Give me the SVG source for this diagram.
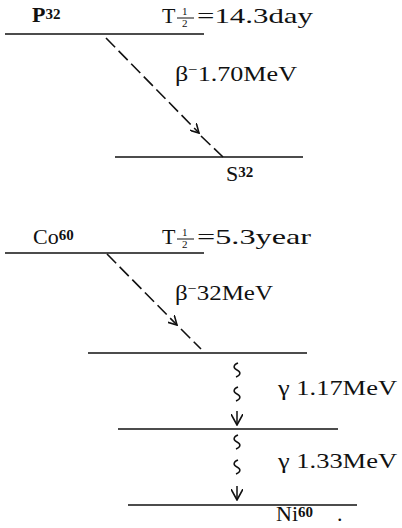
<svg xmlns="http://www.w3.org/2000/svg" width="402" height="528" viewBox="0 0 402 528">
<style>
text{font-family:"Liberation Serif","DejaVu Serif",serif;fill:#111;font-size:22px}
.sup{font-size:15px;font-weight:bold}
.frac{font-size:11px}
.lvl{stroke:#111;stroke-width:1.3;fill:none}
.beta{stroke:#111;stroke-width:1.6;fill:none;stroke-dasharray:13 5}
.gam{stroke:#111;stroke-width:1.5;fill:none}
</style>
<defs>
<marker id="ah" viewBox="0 0 10 10" refX="9" refY="5" markerWidth="10" markerHeight="10" markerUnits="userSpaceOnUse" orient="auto">
<path d="M0,0 L9,5 L0,10" fill="none" stroke="#111" stroke-width="1.6"/>
</marker>
<marker id="ah2" viewBox="0 0 12 12" refX="11" refY="6" markerWidth="12" markerHeight="12" markerUnits="userSpaceOnUse" orient="auto">
<path d="M0,0 L11,6 L0,12" fill="none" stroke="#111" stroke-width="1.6"/>
</marker>
</defs>
<g id="p32">
<line class="lvl" x1="5" y1="34" x2="204" y2="34"/>
<text x="32" y="22" font-weight="bold" font-size="19">P<tspan class="sup" dy="-3">32</tspan></text>
<text x="162" y="23">T</text>
<text class="frac" x="182" y="15">1</text>
<line x1="177" y1="18" x2="194" y2="18" stroke="#111" stroke-width="1"/>
<text class="frac" x="182" y="27">2</text>
<text x="197" y="23" textLength="116" lengthAdjust="spacingAndGlyphs">=14.3day</text>
</g>
<g id="s32">
<line class="lvl" x1="115" y1="157" x2="303" y2="157"/>
<text x="226" y="181">S<tspan class="sup" dy="-4">32</tspan></text>
</g>
<g id="co60">
<line class="lvl" x1="5" y1="253" x2="204" y2="253"/>
<text x="33" y="244">Co<tspan class="sup" dy="-4">60</tspan></text>
<text x="162" y="244">T</text>
<text class="frac" x="182" y="236">1</text>
<line x1="177" y1="239" x2="194" y2="239" stroke="#111" stroke-width="1"/>
<text class="frac" x="182" y="248">2</text>
<text x="197" y="244" textLength="114" lengthAdjust="spacingAndGlyphs">=5.3year</text>
</g>
<g id="co-excited1">
<line class="lvl" x1="88" y1="353" x2="307" y2="353"/>
</g>
<g id="co-excited2">
<line class="lvl" x1="118" y1="429" x2="338" y2="429"/>
</g>
<g id="ni60">
<line class="lvl" x1="128" y1="505" x2="357" y2="505"/>
<text x="276" y="521">Ni<tspan class="sup" dy="-4">60</tspan></text>
<text x="337" y="521">.</text>
</g>
<g id="labels">
<text x="175" y="81" textLength="122" lengthAdjust="spacingAndGlyphs">β<tspan font-size="14" dy="-7">−</tspan><tspan dy="7">1.70MeV</tspan></text>
<text x="175" y="300" textLength="98" lengthAdjust="spacingAndGlyphs">β<tspan font-size="14" dy="-7">−</tspan><tspan dy="7">32MeV</tspan></text>
<text x="278" y="395" textLength="119" lengthAdjust="spacingAndGlyphs">γ 1.17MeV</text>
<text x="278" y="468" textLength="119" lengthAdjust="spacingAndGlyphs">γ 1.33MeV</text>
</g>
<g id="connectors">
<path class="beta" d="M106,38 L199,133" marker-end="url(#ah)"/>
<path class="beta" d="M201,136 L223,157" stroke-dasharray="none"/>
<path class="beta" d="M107,254 L177,325" marker-end="url(#ah)"/>
<path class="beta" d="M181,329 L201,349" stroke-dasharray="none"/>
<path class="gam" d="M238,363 c-5,2 -5,5 -1,7 c4,2 4,5 -1,7 M238,387 c-5,2 -5,5 -1,7 c4,2 4,5 -1,7 M237,411 L237,425" marker-end="url(#ah2)"/>
<path class="gam" d="M238,435 c-5,2 -5,5 -1,7 c4,2 4,5 -1,7 M238,460 c-5,2 -5,5 -1,7 c4,2 4,5 -1,7 M237,486 L237,500" marker-end="url(#ah2)"/>
</g>
</svg>
